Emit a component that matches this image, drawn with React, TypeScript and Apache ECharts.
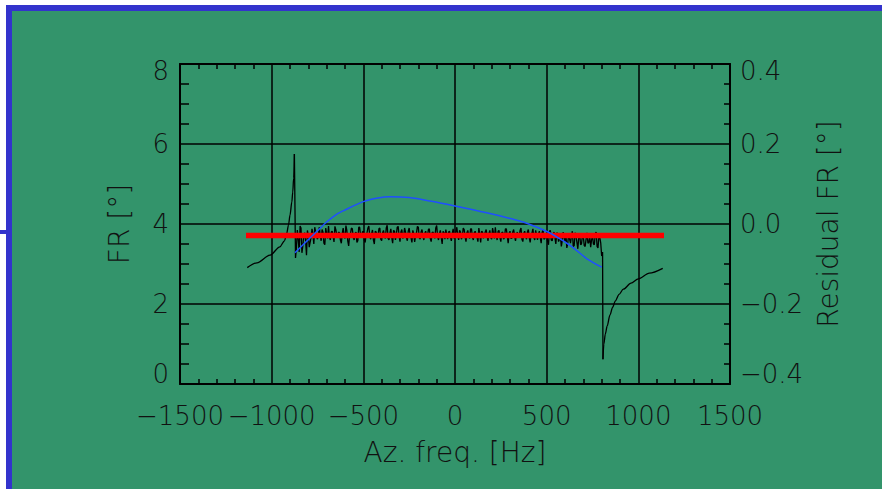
import React, { useEffect, useRef } from "react";
import * as echarts from "echarts";

// ---- data ----
const xTicks = [-1500, -1000, -500, 0, 500, 1000, 1500];
const frTicks = [0, 2, 4, 6, 8];
const residTicks = [-0.4, -0.2, 0.0, 0.2, 0.4];

// smooth black branch below the band (Hz, deg)
const leftBranchX = [-1133, -1080, -1009, -955, -930, -918, -908, -900, -890, -885, -880, -876];
const leftBranchY = [2.91, 3.03, 3.22, 3.43, 3.58, 3.76, 3.98, 4.22, 4.55, 4.8, 5.15, 5.75];

// noisy black data in the band: samples A at -870 + 10 i Hz, samples B at -865 + 10 i Hz
const noiseStartA = -870;
const noiseStartB = -865;
const noiseStep = 10;
const noiseA = [
  3.15, 3.85, 3.3, 3.9, 3.45, 3.78, 3.22, 3.7, 3.55, 3.88, 3.5, 3.8,
  3.62, 3.92, 3.58, 3.8, 3.48, 3.75, 3.95, 3.6, 3.82, 3.55, 3.86, 3.66,
  3.78, 3.52, 3.9, 3.64, 3.84, 3.45, 3.76, 3.88, 3.6, 3.8, 3.58, 3.92,
  3.66, 3.82, 3.54, 3.78, 3.95, 3.62, 3.85, 3.5, 3.8, 3.7, 3.9, 3.58,
  3.84, 3.64, 3.97, 3.6, 3.88, 3.52, 3.82, 3.74, 3.94, 3.56, 3.86, 3.68,
  3.8, 3.58, 3.9, 3.66, 3.84, 3.55, 3.78, 3.92, 3.62, 3.86, 3.6, 3.82,
  3.7, 3.88, 3.56, 3.8, 3.64, 3.96, 3.6, 3.84, 3.5, 3.78, 3.86, 3.62,
  3.82, 3.58, 3.88, 3.66, 3.92, 3.6, 3.8, 3.7, 3.86, 3.56, 3.84, 3.64,
  3.88, 3.6, 3.82, 3.68, 3.9, 3.54, 3.8, 3.72, 3.86, 3.58, 3.84, 3.62,
  3.78, 3.92, 3.6, 3.84, 3.56, 3.8, 3.66, 3.88, 3.52, 3.82, 3.64, 3.86,
  3.58, 3.8, 3.68, 3.9, 3.56, 3.82, 3.62, 3.86, 3.54, 3.78, 3.66, 3.84,
  3.6, 3.82, 3.52, 3.86, 3.64, 3.78, 3.48, 3.84, 3.58, 3.8, 3.5, 3.76,
  3.62, 3.44, 3.8, 3.56, 3.4, 3.74, 3.52, 3.82, 3.46, 3.7, 3.38, 3.76,
  3.5, 3.68, 3.44, 3.78, 3.54, 3.42, 3.72, 3.48, 3.8, 3.4, 3.66, 3.2,
];
const noiseB = [
  3.4, 3.62, 3.95, 3.28, 3.72, 3.58, 3.84, 3.42, 3.66, 3.74, 3.92, 3.68,
  3.74, 3.7, 3.86, 3.52, 3.9, 3.64, 3.68, 3.8, 3.7, 3.94, 3.72, 3.8,
  3.6, 3.76, 3.7, 3.96, 3.58, 3.72, 3.9, 3.66, 3.76, 3.54, 3.92, 3.72,
  3.8, 3.6, 3.74, 3.9, 3.7, 3.76, 3.6, 3.82, 3.68, 3.88, 3.62, 3.78,
  3.7, 3.9, 3.64, 3.78, 3.66, 3.84, 3.6, 3.92, 3.7, 3.8, 3.64, 3.9,
  3.66, 3.82, 3.72, 3.54, 3.76, 3.7, 3.94, 3.66, 3.8, 3.7, 3.76, 3.68,
  3.86, 3.64, 3.78, 3.72, 3.9, 3.7, 3.76, 3.66, 3.82, 3.62, 3.74, 3.8,
  3.68, 3.76, 3.64, 3.8, 3.72, 3.84, 3.62, 3.9, 3.68, 3.78, 3.7, 3.88,
  3.66, 3.78, 3.7, 3.56, 3.76, 3.82, 3.64, 3.8, 3.7, 3.76, 3.66, 3.9,
  3.64, 3.7, 3.82, 3.66, 3.78, 3.62, 3.88, 3.7, 3.76, 3.64, 3.8, 3.7,
  3.74, 3.66, 3.84, 3.62, 3.76, 3.7, 3.8, 3.66, 3.74, 3.88, 3.6, 3.72,
  3.74, 3.66, 3.78, 3.62, 3.7, 3.56, 3.82, 3.6, 3.72, 3.66, 3.78, 3.56,
  3.7, 3.58, 3.66, 3.74, 3.52, 3.62, 3.7, 3.44, 3.78, 3.54, 3.66, 3.48,
  3.72, 3.46, 3.62, 3.52, 3.7, 3.6, 3.5, 3.76, 3.44, 3.7, 3.52, 3.3,
];

// smooth black branch above the band
const rightBranchX = [807, 812, 820, 830, 845, 860, 875, 895, 918, 960, 1000, 1060, 1133];
const rightBranchY = [0.62, 1.0, 1.25, 1.45, 1.72, 1.92, 2.08, 2.24, 2.37, 2.52, 2.63, 2.77, 2.89];

// red reference line
const redX = [-1140, 1140];
const redY = [3.71, 3.71];

// blue model curve
const blueX = [-873, -800, -750, -700, -650, -600, -500, -420, -355, -250, -136, 0, 173, 300, 391, 507, 600, 653, 720, 800];
const blueY = [3.28, 3.61, 3.83, 4.05, 4.23, 4.35, 4.56, 4.65, 4.68, 4.66, 4.575, 4.45, 4.28, 4.14, 4.02, 3.8, 3.55, 3.38, 3.13, 2.92];

const BG = "#33946B";
const BORDER = "#3333CC";
const INK = "#111111";
const FONT = "DejaVu Sans";

const minus = (s: string) => s.replace("-", "\u2212");

export default function App() {
  const ref = useRef<HTMLDivElement>(null);

  useEffect(() => {
    if (!ref.current) return;
    const chart = echarts.init(ref.current, null, { renderer: "svg" });

    const left = leftBranchX.map((x, i) => [x, leftBranchY[i]]);
    const right = rightBranchX.map((x, i) => [x, rightBranchY[i]]);
    const band: number[][] = [left[left.length - 1]];
    noiseA.forEach((y, i) => {
      band.push([noiseStartA + i * noiseStep, y]);
      if (i < noiseB.length) band.push([noiseStartB + i * noiseStep, noiseB[i]]);
    });
    band.push(right[0]);
    const red = redX.map((x, i) => [x, redY[i]]);
    const blue = blueX.map((x, i) => [x, blueY[i]]);

    const labelBase = { color: INK, fontFamily: FONT, fontSize: 26, fontWeight: 200 as any };
    const rich = {
      hi: { ...labelBase, padding: [14, 0, 0, 0] },
      lo: { ...labelBase, padding: [0, 0, 21, 0] },
      mid: { ...labelBase },
    };
    const frameLine = { show: true, onZero: false, lineStyle: { color: "#000", width: 2 } };
    const grid = { show: true, lineStyle: { color: "#000", width: 1.5 } };
    const blackLine = { color: "#000", width: 1.3 };

    chart.setOption({
      animation: false,
      backgroundColor: BG,
      textStyle: { fontFamily: FONT },
      grid: { left: 180, top: 64, right: 152, bottom: 105, containLabel: false },
      graphic: [
        { type: "rect", shape: { x: 0, y: 0, width: 882, height: 5 }, style: { fill: "#fff" }, silent: true },
        { type: "rect", shape: { x: 0, y: 0, width: 6, height: 489 }, style: { fill: "#fff" }, silent: true },
        { type: "rect", shape: { x: 6, y: 5, width: 876, height: 6 }, style: { fill: BORDER }, silent: true },
        { type: "rect", shape: { x: 6, y: 5, width: 6, height: 484 }, style: { fill: BORDER }, silent: true },
        { type: "rect", shape: { x: 0, y: 230, width: 8, height: 4 }, style: { fill: BORDER }, silent: true },
      ],
      xAxis: [
        {
          type: "value",
          position: "bottom",
          min: xTicks[0],
          max: xTicks[xTicks.length - 1],
          interval: 500,
          name: "Az. freq. [Hz]",
          nameLocation: "middle",
          nameGap: 54,
          nameTextStyle: { color: INK, fontFamily: FONT, fontSize: 28, fontWeight: 200 },
          axisLine: frameLine,
          axisTick: { show: false, inside: true },
          minorTick: { show: true, splitNumber: 5, length: 5, lineStyle: { color: "#000", width: 1.5 } },
          splitLine: grid,
          axisLabel: {
            ...labelBase,
            margin: 19,
            formatter: (v: number) => minus(String(v)),
          },
        },
        {
          type: "value",
          position: "top",
          min: xTicks[0],
          max: xTicks[xTicks.length - 1],
          interval: 500,
          axisLine: frameLine,
          axisTick: { show: false, inside: true },
          minorTick: { show: true, splitNumber: 5, length: 5, lineStyle: { color: "#000", width: 1.5 } },
          splitLine: { show: false },
          axisLabel: { show: false },
        },
      ],
      yAxis: [
        {
          type: "value",
          position: "left",
          min: frTicks[0],
          max: frTicks[frTicks.length - 1],
          interval: 2,
          name: "FR [\u00b0]",
          nameLocation: "middle",
          nameRotate: 90,
          nameGap: 47,
          nameTextStyle: { color: INK, fontFamily: FONT, fontSize: 28, fontWeight: 200 },
          axisLine: frameLine,
          axisTick: { show: false, inside: true },
          minorTick: { show: true, splitNumber: 4, length: 9, lineStyle: { color: "#000", width: 1.5 } },
          splitLine: grid,
          axisLabel: {
            ...labelBase,
            margin: 11,
            rich,
            formatter: (v: number) =>
              v === frTicks[frTicks.length - 1] ? `{hi|${v}}` : v === frTicks[0] ? `{lo|${v}}` : `{mid|${v}}`,
          },
        },
        {
          type: "value",
          position: "right",
          min: residTicks[0],
          max: residTicks[residTicks.length - 1],
          interval: 0.2,
          name: "Residual FR [\u00b0]",
          nameLocation: "middle",
          nameRotate: 90,
          nameGap: 77,
          nameTextStyle: { color: INK, fontFamily: FONT, fontSize: 28, fontWeight: 200 },
          axisLine: frameLine,
          axisTick: { show: false, inside: true },
          minorTick: { show: true, splitNumber: 4, length: 6, lineStyle: { color: "#000", width: 1.5 } },
          splitLine: { show: false },
          axisLabel: {
            ...labelBase,
            margin: 10,
            rich,
            formatter: (v: number) => {
              const s = minus(v.toFixed(1));
              if (Math.abs(v - residTicks[residTicks.length - 1]) < 1e-9) return `{hi|${s}}`;
              if (Math.abs(v - residTicks[0]) < 1e-9) return `{lo|${s}}`;
              return `{mid|${s}}`;
            },
          },
        },
      ],
      series: [
        {
          type: "line",
          data: left,
          smooth: 0.3,
          smoothMonotone: "x",
          showSymbol: false,
          lineStyle: blackLine,
          z: 3,
        },
        {
          type: "line",
          data: band,
          showSymbol: false,
          lineStyle: blackLine,
          z: 3,
        },
        {
          type: "line",
          data: right,
          smooth: 0.3,
          smoothMonotone: "x",
          showSymbol: false,
          lineStyle: blackLine,
          z: 3,
        },
        {
          type: "line",
          data: red,
          showSymbol: false,
          lineStyle: { color: "#ff0000", width: 5.5 },
          z: 4,
        },
        {
          type: "line",
          data: blue,
          smooth: 0.3,
          showSymbol: false,
          lineStyle: { color: "#1f4fff", width: 1.5 },
          z: 5,
        },
      ],
    });

    return () => chart.dispose();
  }, []);

  return (
    <div
      ref={ref}
      style={{ position: "fixed", left: 0, top: 0, width: 882, height: 489 }}
    />
  );
}
